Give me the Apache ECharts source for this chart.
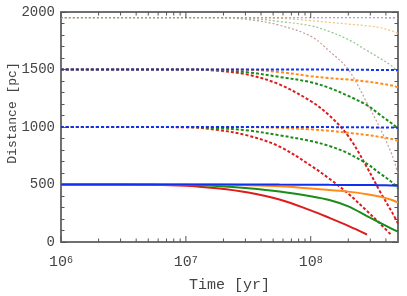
<!DOCTYPE html>
<html><head><meta charset="utf-8">
<script src="https://cdn.jsdelivr.net/npm/echarts@6/dist/echarts.min.js"></script>
<style>html,body{margin:0;padding:0;background:#fff}#c{width:407px;height:296px}</style>
</head><body><div id="c"></div>
<script>
// time grid (yr)
const times = [1e6, 3e6, 1e7, 1.78e7, 3.16e7, 5.62e7, 1e8, 1.41e8, 2e8, 2.82e8, 3.55e8, 4.47e8, 5e8];
const xMajorTicks = [1e6, 1e7, 1e8];
const xMinorTicks = [2e6,3e6,4e6,5e6,6e6,7e6,8e6,9e6,2e7,3e7,4e7,5e7,6e7,7e7,8e7,9e7,2e8,3e8,4e8];

// start 500 pc (solid)
const s500_red    = [500,500,490,467,430,370,275,210,140,65,null,null,null];
const s500_green  = [500,500,497,487,468,440,398,365,310,225,170,115,90];
const s500_orange = [500,500,500,499,494,484,465,452,438,415,395,365,342];
const s500_blue   = [500,500,500,500,500,499,498,497,496,495,494,492,490];
// start 1000 pc (dashed)
const s1000_red    = [1000,1000,998,975,925,830,665,550,420,270,165,55,null];
const s1000_green  = [1000,1000,999,990,970,928,878,835,770,680,600,520,465];
const s1000_orange = [1000,1000,1000,1000,999,993,980,966,950,930,915,895,880];
const s1000_blue   = [1000,1000,1000,1000,1000,1000,999,999,998,997,996,995,994];
// start 1500 pc (dashed)
const s1500_red    = [1500,1500,1500,1490,1455,1370,1225,1100,920,650,448,260,160];
const s1500_green  = [1500,1500,1500,1495,1475,1435,1390,1340,1270,1190,1110,1030,990];
const s1500_orange = [1500,1500,1500,1500,1498,1478,1442,1425,1412,1395,1380,1360,1345];
const s1500_blue   = [1500,1500,1500,1500,1500,1500,1499,1499,1498,1497,1496,1495,1494];
// start 1950 pc (thin dotted)
const s1950_red    = [1950,1950,1950,1950,1935,1885,1790,1660,1500,1210,1000,760,590];
const s1950_green  = [1950,1950,1950,1950,1945,1918,1880,1830,1760,1665,1600,1530,1480];
const s1950_orange = [1950,1950,1950,1950,1950,1945,1925,1910,1895,1880,1865,1835,1815];
const s1950_blue   = [1950,1950,1950,1950,1950,1950,1950,1950,1950,1950,1950,1949,1948];

const C = {red:'#dd1c1c', green:'#1a8c1a', orange:'#ff8c1a', blue:'#1030f0',
           lred:'#c99a9a', lgreen:'#8fc88f', lorange:'#f2c07a', lblue:'#8a8ab8'};
const FONT = 'Liberation Mono, DejaVu Sans Mono, monospace';
const AX = '#707070';
const TK = '#555';

function pairs(vals){ return times.map((t,i)=>[t, vals[i]]).filter(p=>p[1]!==null); }
function line(vals, color, width, type){
  return {type:'line', xAxisIndex:0, yAxisIndex:0, data:pairs(vals), showSymbol:false, symbol:'none',
    smooth:0.35, silent:true, animation:false,
    lineStyle:{color:color, width:width, type:type}};
}

// log-axis ticks (major + minor) drawn via the x scale, top and bottom
const tickData = xMajorTicks.map(v=>[v,6]).concat(xMinorTicks.map(v=>[v,3.5]));
const tickSeries = {
  type:'custom', xAxisIndex:0, yAxisIndex:0, silent:true, animation:false, z:5,
  data: tickData,
  renderItem: function(params, api){
    const v = api.value(0), len = api.value(1);
    const b = api.coord([v, 0]);
    const t = api.coord([v, 2000]);
    return {type:'group', children:[
      {type:'line', shape:{x1:b[0], y1:b[1], x2:b[0], y2:b[1]-len}, style:{stroke:TK, lineWidth:1}},
      {type:'line', shape:{x1:t[0], y1:t[1], x2:t[0], y2:t[1]+len}, style:{stroke:TK, lineWidth:1}}
    ]};
  }
};

const series = [
  line(s1950_red, C.lred, 1.2, [2,2]),
  line(s1950_green, C.lgreen, 1.2, [2,2]),
  line(s1950_orange, C.lorange, 1.2, [2,2]),
  line(s1950_blue, C.lblue, 1.2, [2,2]),
  line(s1500_red, C.red, 2, [3,2]),
  line(s1500_green, C.green, 2, [3,2]),
  line(s1500_orange, C.orange, 2, [3,2]),
  line(s1500_blue, C.blue, 2, [3,2]),
  line(s1000_red, C.red, 2, [3,2]),
  line(s1000_green, C.green, 2, [3,2]),
  line(s1000_orange, C.orange, 2, [3,2]),
  line(s1000_blue, C.blue, 2, [3,2]),
  line(s500_red, C.red, 2, 'solid'),
  line(s500_green, C.green, 2, 'solid'),
  line(s500_orange, C.orange, 2, 'solid'),
  line(s500_blue, C.blue, 2, 'solid'),
  tickSeries
];

function xAx(pos, withLabel){
  const a = {type:'log', logBase:10, min:1e6, max:5e8, position:pos, gridIndex:0,
    axisLine:{show:true, onZero:false, lineStyle:{color:AX, width:2}},
    axisTick:{show:false}, splitLine:{show:false}, minorTick:{show:false},
    axisLabel:{show:false}};
  if (withLabel){
    a.axisLabel = {show:true, customValues:xMajorTicks, margin:13, color:'#444', fontFamily:FONT,
      formatter: v => '{b|10}{s|' + Math.round(Math.log10(v)) + '}',
      rich:{ b:{fontSize:15, lineHeight:15, verticalAlign:'bottom', fontFamily:FONT, color:'#444'},
             s:{fontSize:10, lineHeight:10, verticalAlign:'top', padding:[0,0,10,0], fontFamily:FONT, color:'#444'} }};
    a.name = 'Time [yr]';
    a.nameLocation = 'middle';
    a.nameGap = 36;
    a.nameMoveOverlap = false;
    a.nameTextStyle = {fontFamily:FONT, fontSize:15, color:'#444'};
  }
  return a;
}
function yAx(pos, withLabel){
  const a = {type:'value', min:0, max:2000, interval:500, position:pos, gridIndex:0,
    axisLine:{show:true, onZero:false, lineStyle:{color:AX, width:2}},
    axisTick:{show:true, inside:true, length:6, lineStyle:{color:TK, width:1}},
    minorTick:{show:true, splitNumber:5, length:3.5, lineStyle:{color:TK, width:1}},
    splitLine:{show:false},
    axisLabel:{show:withLabel, margin:6, color:'#444', fontFamily:FONT, fontSize:14,
      formatter: v => String(v)}};
  if (withLabel){
    a.name = 'Distance [pc]';
    a.nameLocation = 'middle';
    a.nameGap = 42;
    a.nameMoveOverlap = false;
    a.nameTextStyle = {fontFamily:FONT, fontSize:13, color:'#444', padding:[0,0,0,28]};
  }
  return a;
}

const chart = echarts.init(document.getElementById('c'), null, {renderer:'canvas'});
chart.setOption({
  animation:false,
  backgroundColor:'#fff',
  grid:{left:61, right:9, top:12, bottom:54, containLabel:false, outerBoundsMode:'none'},
  xAxis:[ xAx('bottom', true), xAx('top', false) ],
  yAxis:[ yAx('left', true), yAx('right', false) ],
  series: series
});
</script></body></html>
